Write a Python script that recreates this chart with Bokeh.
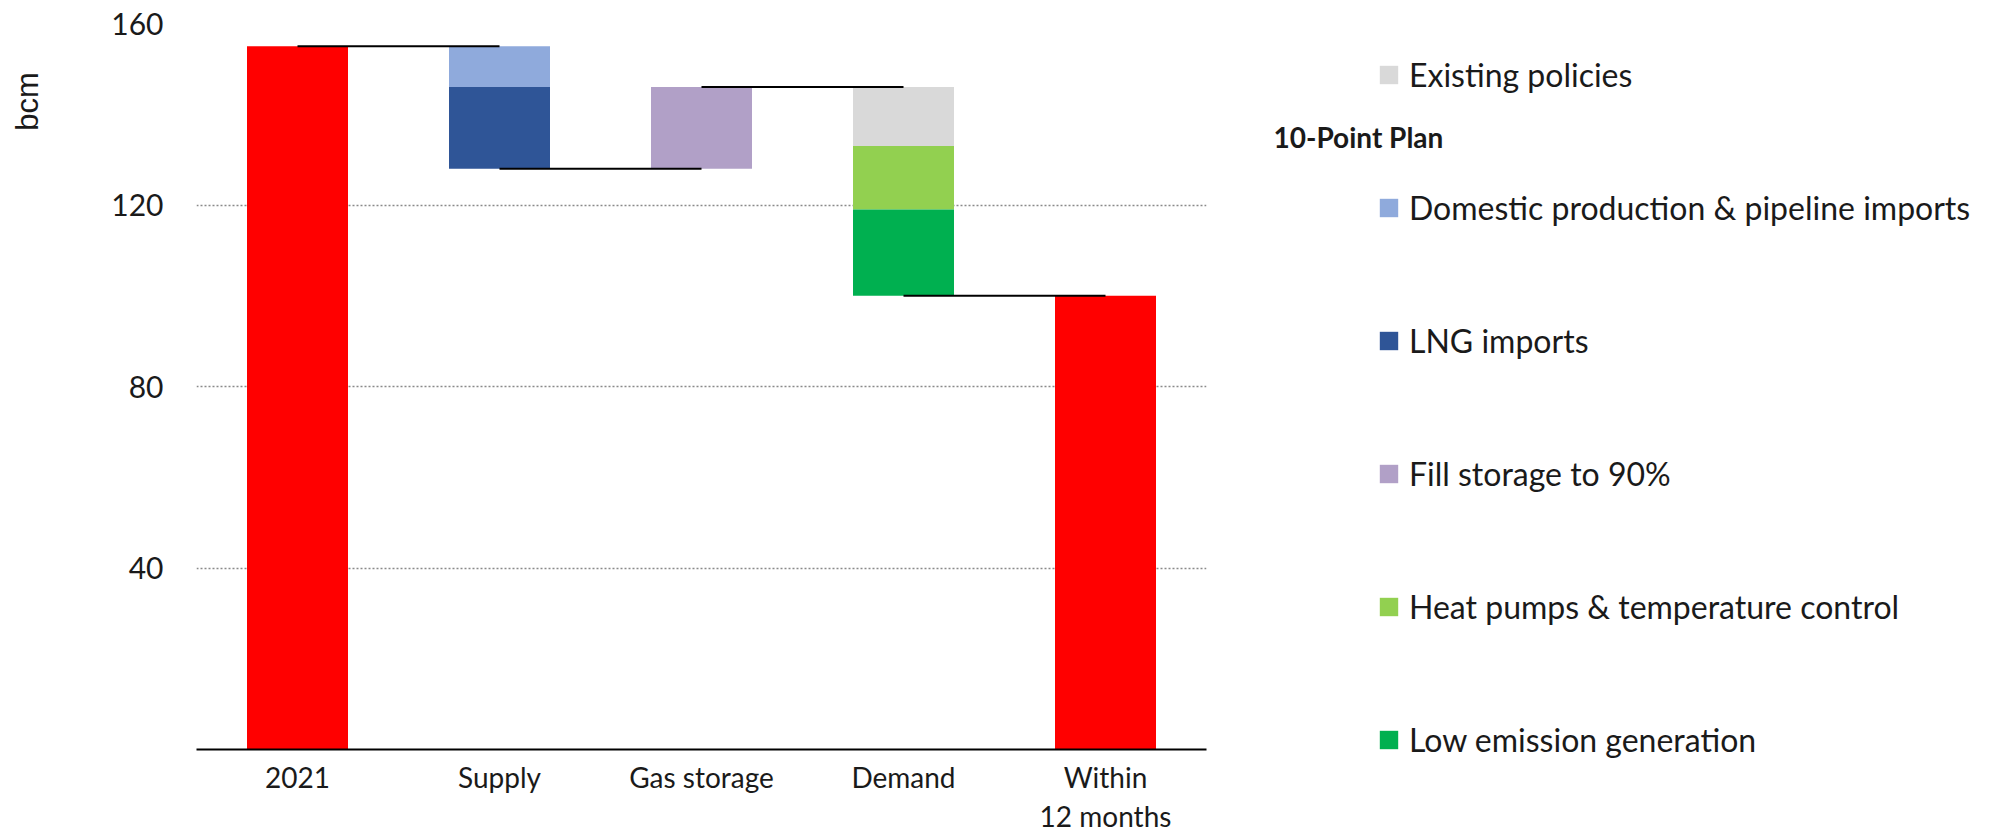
import math
from bokeh.plotting import figure
from bokeh.layouts import row
from bokeh.models import (ColumnDataSource, FactorRange, Range1d, FixedTicker,
                          Legend, LegendItem, Label)
from bokeh.embed import file_html
from bokeh.resources import INLINE

# ---------------- data ----------------
categories = ["2021", "Supply", "Gas storage", "Demand", "Within\n12 months"]
start_value = 155      # 2021 demand, bcm
end_value = 100        # within 12 months, bcm

step_labels = ["Domestic production & pipeline imports", "LNG imports",
               "Fill storage to 90%", "Existing policies",
               "Heat pumps & temperature control", "Low emission generation"]
step_category = ["Supply", "Supply", "Gas storage", "Demand", "Demand", "Demand"]
step_values = [-9, -18, 18, -13, -14, -19]
step_colors = ["#8FAADC", "#2F5597", "#B1A0C7", "#D9D9D9", "#92D050", "#00B050"]

legend_order = ["Existing policies", "Domestic production & pipeline imports",
                "LNG imports", "Fill storage to 90%",
                "Heat pumps & temperature control", "Low emission generation"]
y_ticks = [40, 80, 120, 160]

TEXT = "#1a1a1a"
FONT = "Lato"
H = 836
TOP, BOTTOM = 23, 87

# ---------------- y-axis unit label panel ----------------
u = figure(width=50, height=H, x_range=Range1d(0, 1), y_range=Range1d(0, 160),
           x_axis_location=None, y_axis_location=None,
           min_border_left=0, min_border_right=0,
           min_border_top=TOP, min_border_bottom=BOTTOM,
           output_backend="svg", toolbar_location=None, tools="")
u.grid.visible = False
u.outline_line_color = None
u.add_layout(Label(x=27, y=648, x_units="screen", y_units="screen",
                   text="bcm", angle=math.pi / 2, text_font="Liberation Sans",
                   text_font_size="31px", text_color=TEXT,
                   text_align="center", text_baseline="middle"))

# ---------------- chart ----------------
p = figure(x_range=FactorRange(*categories, range_padding=0),
           y_range=Range1d(0, 160),
           width=1176, height=H,
           min_border_left=146, min_border_right=20,
           min_border_top=TOP, min_border_bottom=BOTTOM,
           output_backend="svg", toolbar_location=None, tools="")
p.outline_line_color = None

tot = ColumnDataSource(dict(x=[categories[0], categories[-1]],
                            top=[start_value, end_value]))
p.vbar(x="x", top="top", bottom=0, width=0.5, source=tot,
       fill_color="#FF0000", line_color=None)

level = start_value
levels_after = {categories[0]: start_value}
step_sources = {}
for lab, cat, val, col in zip(step_labels, step_category, step_values, step_colors):
    new = level + val
    src = ColumnDataSource(dict(x=[cat], top=[max(level, new)], bottom=[min(level, new)]))
    step_sources[lab] = src
    p.vbar(x="x", top="top", bottom="bottom", width=0.5, source=src,
           fill_color=col, line_color=None)
    level = new
    levels_after[cat] = level

conn_x0 = categories[:-1]
conn_x1 = categories[1:]
conn_y = [levels_after[c] for c in conn_x0]
p.segment(x0=conn_x0, y0=conn_y, x1=conn_x1, y1=conn_y,
          line_color="black", line_width=2)

p.yaxis.ticker = FixedTicker(ticks=y_ticks)
p.yaxis.axis_line_color = None
p.yaxis.major_tick_line_color = None
p.yaxis.minor_tick_line_color = None
p.yaxis.major_tick_out = 0
p.yaxis.major_tick_in = 0
p.yaxis.minor_tick_out = 0
p.yaxis.major_label_standoff = 33
p.yaxis.major_label_text_font = FONT
p.yaxis.major_label_text_font_size = "30px"
p.yaxis.major_label_text_color = TEXT

p.xaxis.axis_line_color = "black"
p.xaxis.axis_line_width = 2
p.xaxis.major_tick_line_color = None
p.xaxis.major_tick_out = 0
p.xaxis.major_tick_in = 0
p.xaxis.major_label_standoff = 10
p.xaxis.major_label_text_font = FONT
p.xaxis.major_label_text_font_size = "28px"
p.xaxis.major_label_text_color = TEXT
p.xaxis.major_label_text_line_height = 1.15

p.xgrid.grid_line_color = None
p.ygrid.grid_line_color = "#8a8a8a"
p.ygrid.grid_line_dash = "2 2"
p.ygrid.grid_line_width = 1.5

# ---------------- legend panel ----------------
q = figure(width=774, height=H, x_range=FactorRange(*categories),
           y_range=Range1d(0, 160), x_axis_location=None, y_axis_location=None,
           min_border=0, frame_align=False,
           output_backend="svg", toolbar_location=None, tools="")
q.grid.visible = False
q.outline_line_color = None

leg_renderers = {}
for lab, col in zip(step_labels, step_colors):
    r = q.vbar(x="x", top="top", bottom="bottom", width=0.5, source=step_sources[lab],
               fill_color=col, line_color=None)
    r.visible = False
    leg_renderers[lab] = r

items = [LegendItem(label=l, renderers=[leg_renderers[l]]) for l in legend_order]
legend = Legend(items=items, location=(151, 77), orientation="vertical",
                padding=0, margin=0, spacing=93, glyph_width=23, glyph_height=23,
                label_height=40, label_standoff=9,
                label_text_font=FONT, label_text_font_size="32px",
                label_text_color=TEXT, border_line_color=None,
                background_fill_alpha=0, inactive_fill_alpha=0,
                click_policy="none")
q.add_layout(legend, "center")

q.add_layout(Label(x=47, y=700, x_units="screen", y_units="screen",
                   text="10-Point Plan", text_font=FONT, text_font_style="bold",
                   text_font_size="28px", text_color=TEXT,
                   text_align="left", text_baseline="alphabetic"))

layout = row(u, p, q, spacing=0)
open("out.html", "w").write(file_html(layout, INLINE))
